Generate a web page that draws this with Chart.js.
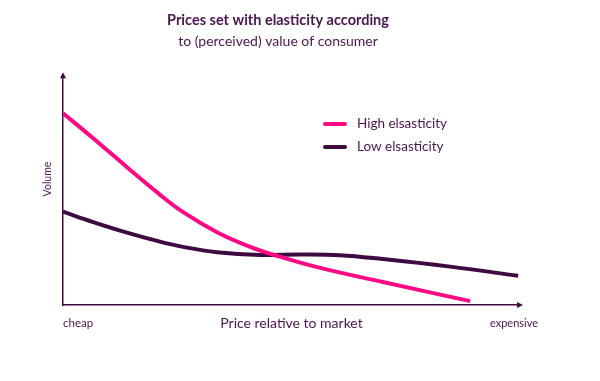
<!DOCTYPE html>
<html>
<head>
<meta charset="utf-8">
<script src="https://cdn.jsdelivr.net/npm/chart.js@4.4.0/dist/chart.umd.min.js"></script>
<style>
  html, body { margin: 0; padding: 0; background: #ffffff; }
  #wrap { width: 600px; height: 381px; position: relative; }
</style>
</head>
<body>
<div id="wrap"><canvas id="c" width="600" height="381"></canvas></div>
<script>
// ---- data ----
const titleLines = ['Prices set with elasticity according', 'to (perceived) value of consumer'];
const seriesNames = ['High elsasticity', 'Low elsasticity'];
const axisLabels = { x: 'Price relative to market', y: 'Volume' };
const endLabels = ['cheap', 'expensive'];

const highPrice  = [0, 6.6, 14.0, 20.8, 26.3, 33.7, 41.1, 47.0, 55.6, 70.0, 89.1];
const highVolume = [83.5, 72.6, 60.0, 48.7, 40.4, 31.7, 25.2, 21.3, 16.5, 10.0, 1.7];

const lowPrice  = [0, 6.6, 14.0, 20.8, 26.3, 33.7, 43.1, 51.9, 60.6, 70.0, 84.7, 99.6];
const lowVolume = [40.6, 36.1, 31.5, 27.8, 25.3, 23.0, 21.8, 22.0, 21.7, 20.0, 16.7, 12.7];

const PINK = '#fc0a84';
const DARK = '#3e0b40';
const TEXT = '#4b1650';
const FONT = 'Lato';

function pts(xs, ys) { return xs.map((x, i) => ({ x: x, y: ys[i] })); }

const decor = {
  id: 'decor',
  afterDraw(chart) {
    const ctx = chart.ctx;
    const a = chart.chartArea;
    ctx.save();
    // arrow heads
    ctx.fillStyle = DARK;
    ctx.beginPath();
    ctx.moveTo(a.left, a.top - 3);
    ctx.lineTo(a.left - 3, a.top + 3);
    ctx.lineTo(a.left + 3, a.top + 3);
    ctx.closePath();
    ctx.fill();
    ctx.beginPath();
    ctx.moveTo(a.right + 3, a.bottom);
    ctx.lineTo(a.right - 3, a.bottom - 3);
    ctx.lineTo(a.right - 3, a.bottom + 3);
    ctx.closePath();
    ctx.fill();
    // y axis label
    ctx.fillStyle = TEXT;
    ctx.save();
    ctx.translate(48, 179);
    ctx.rotate(-Math.PI / 2);
    ctx.font = '10.5px ' + FONT;
    ctx.textAlign = 'center';
    ctx.textBaseline = 'middle';
    ctx.fillText(axisLabels.y, 0, 0);
    ctx.restore();
    // end labels
    ctx.font = '11.5px ' + FONT;
    ctx.textBaseline = 'middle';
    ctx.textAlign = 'left';
    ctx.fillText(endLabels[0], a.left, 323);
    ctx.font = '11px ' + FONT;
    ctx.textAlign = 'right';
    ctx.fillText(endLabels[1], a.right + 18, 323);
    // legend
    const ds = chart.data.datasets;
    const lx = 323, ly = [124, 147];
    ds.forEach((d, i) => {
      ctx.strokeStyle = d.borderColor;
      ctx.lineWidth = 4;
      ctx.lineCap = 'round';
      ctx.beginPath();
      ctx.moveTo(lx + 2, ly[i]);
      ctx.lineTo(lx + 22, ly[i]);
      ctx.stroke();
      ctx.fillStyle = TEXT;
      ctx.font = '13.5px ' + FONT;
      ctx.textAlign = 'left';
      ctx.textBaseline = 'middle';
      ctx.fillText(d.label, lx + 34, ly[i]);
    });
    ctx.restore();
  }
};

new Chart(document.getElementById('c'), {
  type: 'line',
  data: {
    datasets: [
      { label: seriesNames[0], data: pts(highPrice, highVolume), borderColor: PINK, borderWidth: 4,
        pointRadius: 0, tension: 0.4, fill: false },
      { label: seriesNames[1], data: pts(lowPrice, lowVolume), borderColor: DARK, borderWidth: 4,
        pointRadius: 0, tension: 0.4, fill: false }
    ]
  },
  options: {
    responsive: false,
    animation: false,
    events: [],
    layout: { padding: { left: 36, right: 80, top: 0, bottom: 46 } },
    plugins: {
      legend: { display: false },
      tooltip: { enabled: false },
      title: {
        display: true, text: titleLines[0], color: TEXT,
        font: { family: FONT, size: 14.5, weight: 'bold' },
        padding: { top: 11.3, bottom: 0 }
      },
      subtitle: {
        display: true, text: titleLines[1], color: TEXT,
        font: { family: FONT, size: 14, weight: 'normal' },
        padding: { top: 4.0, bottom: 25.8 }
      }
    },
    scales: {
      x: {
        type: 'linear', min: 0, max: 100,
        grid: { display: false, drawTicks: false },
        border: { display: true, color: DARK, width: 1.5 },
        ticks: { display: false },
        title: { display: true, text: axisLabels.x, color: TEXT,
                 font: { family: FONT, size: 14 }, padding: { top: 0, bottom: 3.6 } },
        afterFit(s) { s.height = 30; }
      },
      y: {
        type: 'linear', min: 0, max: 100,
        grid: { display: false, drawTicks: false },
        border: { display: true, color: DARK, width: 1.5 },
        ticks: { display: false },
        title: { display: false },
        afterFit(s) { s.width = 27; }
      }
    }
  },
  plugins: [decor]
});
</script>
</body>
</html>
